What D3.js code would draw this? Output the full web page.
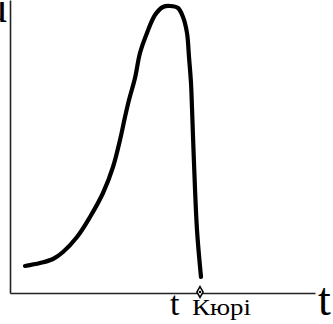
<!DOCTYPE html>
<html lang='uk'>
<head>
    <meta charset='UTF-8'>
    <title>μ(t)</title>
    <style>
        html, body { margin: 0; padding: 0; background: #fff; overflow: hidden; }
        text { font-family: 'Liberation Serif', 'DejaVu Serif', serif; fill: #000; }
    </style>
</head>
<body>
<div id="chart-area"></div>
<script src='https://d3js.org/d3.v7.min.js'></script>
<script>

    // temperature (arbitrary units) and permeability (arbitrary units)
    const temps = [15, 30, 43, 53, 67, 80, 93, 103, 110, 115, 119, 125, 130, 137, 145, 153, 160, 168, 173, 177, 179, 181, 182, 184, 187, 191];
    const mu = [27, 30, 34, 41, 56, 76, 100, 126, 153, 176, 193, 215, 240, 260, 278, 286, 287, 285, 276, 260, 236, 210, 185, 130, 63, 16];
    const curieTemp = 190;
    const axisLabels = {y: 'μ', x: 't', curie: ['t', 'Кюрі']};

    const outerWidth = 333;
    const outerHeight = 324;
    const margin = {top: 0, right: 18, bottom: 31, left: 10};
    const width = outerWidth - margin.left - margin.right;
    const height = outerHeight - margin.top - margin.bottom;

    const svg = d3.select('#chart-area').append('svg')
        .attr('width', outerWidth)
        .attr('height', outerHeight)
        .append('g')
        .attr('transform', `translate(${margin.left}, ${margin.top})`);

    const xScale = d3.scaleLinear().domain([0, 305]).range([0, width]);
    const yScale = d3.scaleLinear().domain([0, 293]).range([height, 0]);

    // bare axes, no ticks
    const xAxis = d3.axisBottom(xScale).tickValues([]).tickSizeOuter(0);
    const yAxis = d3.axisLeft(yScale).tickValues([]).tickSizeOuter(0);

    svg.append('g')
        .attr('transform', `translate(0, ${height})`)
        .call(xAxis)
        .select('.domain').attr('stroke', '#222').attr('stroke-width', 1.6);

    svg.append('g')
        .call(yAxis)
        .select('.domain').attr('stroke', '#222').attr('stroke-width', 1.6);

    const line = d3.line()
        .x((d, i) => xScale(temps[i]))
        .y(d => yScale(d))
        .curve(d3.curveCatmullRom.alpha(0.5));

    svg.append('path')
        .datum(mu)
        .attr('fill', 'none')
        .attr('stroke', '#000')
        .attr('stroke-width', 4.2)
        .attr('stroke-linecap', 'round')
        .attr('stroke-linejoin', 'round')
        .attr('d', line);

    // axis names
    svg.append('text')
        .attr('x', -2)
        .attr('y', 22)
        .attr('text-anchor', 'end')
        .style('font-size', '44px')
        .text(axisLabels.y);

    svg.append('text')
        .attr('x', width + 3)
        .attr('y', height + 22)
        .style('font-size', '46px')
        .text(axisLabels.x);

    // Curie point
    const cx = xScale(curieTemp);
    svg.append('text')
        .attr('x', cx - 30)
        .attr('y', height + 22)
        .style('font-size', '34px')
        .text(axisLabels.curie[0]);

    svg.append('text')
        .attr('x', cx - 8)
        .attr('y', height + 22)
        .attr('textLength', 59)
        .attr('lengthAdjust', 'spacingAndGlyphs')
        .style('font-size', '24px')
        .text(axisLabels.curie[1]);

    svg.append('path')
        .attr('transform', `translate(${cx}, ${height - 1})`)
        .attr('d', d3.symbol().type(d3.symbolDiamond).size(34))
        .attr('fill', '#fff')
        .attr('stroke', '#000')
        .attr('stroke-width', 1.5);

    svg.append('circle')
        .attr('cx', cx)
        .attr('cy', height - 1)
        .attr('r', 1.2)
        .attr('fill', '#000');
</script>
</body>
</html>
